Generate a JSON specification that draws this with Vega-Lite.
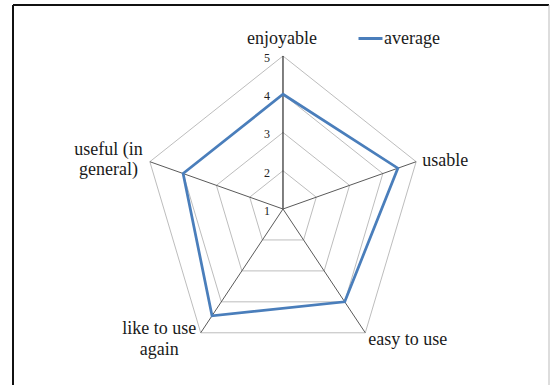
{
  "$schema": "https://vega.github.io/schema/vega-lite/v6.json",
  "width": 536,
  "height": 380,
  "padding": {"left": 13, "top": 5, "right": 1, "bottom": 0},
  "autosize": {"type": "none"},
  "background": "white",
  "view": {"stroke": null},
  "config": {"font": "Liberation Serif"},
  "data": {
    "values": [
      {"axis": "enjoyable", "idx": 0, "average": 4.0, "levels": [2, 3, 4, 5]},
      {"axis": "usable", "idx": 1, "average": 4.45, "levels": [2, 3, 4, 5]},
      {"axis": "easy to use", "idx": 2, "average": 4.0, "levels": [2, 3, 4, 5]},
      {"axis": "like to use\nagain", "idx": 3, "average": 4.45, "levels": [2, 3, 4, 5]},
      {"axis": "useful (in\ngeneral)", "idx": 4, "average": 4.0, "levels": [2, 3, 4, 5]}
    ]
  },
  "transform": [
    {"calculate": "2*PI*datum.idx/5", "as": "ang"},
    {"calculate": "(datum.average-1)*sin(datum.ang)", "as": "ax"},
    {"calculate": "(datum.average-1)*cos(datum.ang)", "as": "ay"},
    {"calculate": "4*sin(datum.ang)", "as": "ox"},
    {"calculate": "4*cos(datum.ang)", "as": "oy"}
  ],
  "layer": [
    {
      "transform": [
        {"flatten": ["levels"], "as": ["level"]},
        {"calculate": "(datum.level-1)*sin(datum.ang)", "as": "gx"},
        {"calculate": "(datum.level-1)*cos(datum.ang)", "as": "gy"}
      ],
      "mark": {"type": "line", "interpolate": "linear-closed", "stroke": "#bdbdbd", "strokeWidth": 1},
      "encoding": {
        "x": {"field": "gx", "type": "quantitative", "scale": {"domain": [-7.714, 7.6], "nice": false, "zero": false}, "axis": null},
        "y": {"field": "gy", "type": "quantitative", "scale": {"domain": [-4.601, 5.333], "nice": false, "zero": false}, "axis": null},
        "detail": {"field": "level", "type": "nominal"},
        "order": {"field": "idx", "type": "quantitative"}
      }
    },
    {
      "mark": {"type": "rule", "strokeWidth": 1},
      "encoding": {
        "x": {"field": "ox", "type": "quantitative", "scale": {"domain": [-7.714, 7.6], "nice": false, "zero": false}, "axis": null},
        "y": {"field": "oy", "type": "quantitative", "scale": {"domain": [-4.601, 5.333], "nice": false, "zero": false}, "axis": null},
        "x2": {"datum": 0},
        "y2": {"datum": 0},
        "color": {"condition": {"test": "datum.idx === 0", "value": "#000000"}, "value": "#5a5a5a"}
      }
    },
    {
      "data": {"values": [{"tick": 1}, {"tick": 2}, {"tick": 3}, {"tick": 4}, {"tick": 5}]},
      "transform": [{"calculate": "datum.tick-1", "as": "ty"}],
      "mark": {"type": "text", "align": "right", "baseline": "middle", "dx": -13, "dy": 2, "fontSize": 12, "color": "#222222", "font": "Liberation Serif"},
      "encoding": {
        "x": {"datum": 0, "type": "quantitative", "scale": {"domain": [-7.714, 7.6], "nice": false, "zero": false}, "axis": null},
        "y": {"field": "ty", "type": "quantitative", "scale": {"domain": [-4.601, 5.333], "nice": false, "zero": false}, "axis": null},
        "text": {"field": "tick", "type": "nominal"}
      }
    },
    {
      "mark": {"type": "line", "interpolate": "linear-closed", "strokeWidth": 2.75},
      "encoding": {
        "x": {"field": "ax", "type": "quantitative", "scale": {"domain": [-7.714, 7.6], "nice": false, "zero": false}, "axis": null},
        "y": {"field": "ay", "type": "quantitative", "scale": {"domain": [-4.601, 5.333], "nice": false, "zero": false}, "axis": null},
        "order": {"field": "idx", "type": "quantitative"},
        "color": {
          "datum": "average",
          "type": "nominal",
          "scale": {"range": ["#4a7ebb"]},
          "legend": {
            "orient": "none", "legendX": 344, "legendY": 20, "title": null,
            "symbolType": "stroke", "symbolSize": 576, "symbolStrokeWidth": 3,
            "labelFont": "Liberation Serif", "labelFontSize": 18, "labelColor": "#1a1a1a",
            "labelOffset": 0, "padding": 0
          }
        }
      }
    },
    {
      "transform": [{"filter": "datum.idx === 0"}],
      "mark": {"type": "text", "align": "center", "baseline": "alphabetic", "dx": -1, "dy": -12, "fontSize": 18, "color": "#1a1a1a", "font": "Liberation Serif", "lineBreak": "\n"},
      "encoding": {
        "x": {"field": "ox", "type": "quantitative", "scale": {"domain": [-7.714, 7.6], "nice": false, "zero": false}, "axis": null},
        "y": {"field": "oy", "type": "quantitative", "scale": {"domain": [-4.601, 5.333], "nice": false, "zero": false}, "axis": null},
        "text": {"field": "axis", "type": "nominal"}
      }
    },
    {
      "transform": [{"filter": "datum.idx === 1"}],
      "mark": {"type": "text", "align": "left", "baseline": "alphabetic", "dx": 6, "dy": 4, "fontSize": 18, "color": "#1a1a1a", "font": "Liberation Serif", "lineBreak": "\n"},
      "encoding": {
        "x": {"field": "ox", "type": "quantitative", "scale": {"domain": [-7.714, 7.6], "nice": false, "zero": false}, "axis": null},
        "y": {"field": "oy", "type": "quantitative", "scale": {"domain": [-4.601, 5.333], "nice": false, "zero": false}, "axis": null},
        "text": {"field": "axis", "type": "nominal"}
      }
    },
    {
      "transform": [{"filter": "datum.idx === 2"}],
      "mark": {"type": "text", "align": "left", "baseline": "alphabetic", "dx": 3, "dy": 12, "fontSize": 18, "color": "#1a1a1a", "font": "Liberation Serif", "lineBreak": "\n"},
      "encoding": {
        "x": {"field": "ox", "type": "quantitative", "scale": {"domain": [-7.714, 7.6], "nice": false, "zero": false}, "axis": null},
        "y": {"field": "oy", "type": "quantitative", "scale": {"domain": [-4.601, 5.333], "nice": false, "zero": false}, "axis": null},
        "text": {"field": "axis", "type": "nominal"}
      }
    },
    {
      "transform": [{"filter": "datum.idx === 3"}],
      "mark": {"type": "text", "align": "center", "baseline": "alphabetic", "dx": -41.5, "dy": 1.5, "lineHeight": 21, "fontSize": 18, "color": "#1a1a1a", "font": "Liberation Serif", "lineBreak": "\n"},
      "encoding": {
        "x": {"field": "ox", "type": "quantitative", "scale": {"domain": [-7.714, 7.6], "nice": false, "zero": false}, "axis": null},
        "y": {"field": "oy", "type": "quantitative", "scale": {"domain": [-4.601, 5.333], "nice": false, "zero": false}, "axis": null},
        "text": {"field": "axis", "type": "nominal"}
      }
    },
    {
      "transform": [{"filter": "datum.idx === 4"}],
      "mark": {"type": "text", "align": "center", "baseline": "alphabetic", "dx": -41.3, "dy": -6.7, "lineHeight": 20, "fontSize": 18, "color": "#1a1a1a", "font": "Liberation Serif", "lineBreak": "\n"},
      "encoding": {
        "x": {"field": "ox", "type": "quantitative", "scale": {"domain": [-7.714, 7.6], "nice": false, "zero": false}, "axis": null},
        "y": {"field": "oy", "type": "quantitative", "scale": {"domain": [-4.601, 5.333], "nice": false, "zero": false}, "axis": null},
        "text": {"field": "axis", "type": "nominal"}
      }
    },
    {
      "data": {"values": [{"edge": "left"}]},
      "mark": {"type": "rule", "stroke": "#111111", "strokeWidth": 2},
      "encoding": {
        "x": {"datum": -7.714, "type": "quantitative", "scale": {"domain": [-7.714, 7.6], "nice": false, "zero": false}, "axis": null}
      }
    },
    {
      "data": {"values": [{"edge": "top"}]},
      "mark": {"type": "rule", "stroke": "#111111", "strokeWidth": 2},
      "encoding": {
        "y": {"datum": 5.333, "type": "quantitative", "scale": {"domain": [-4.601, 5.333], "nice": false, "zero": false}, "axis": null}
      }
    },
    {
      "data": {"values": [{"edge": "right"}]},
      "mark": {"type": "rule", "stroke": "#bbbbbb", "strokeWidth": 1},
      "encoding": {
        "x": {"datum": 7.6, "type": "quantitative", "scale": {"domain": [-7.714, 7.6], "nice": false, "zero": false}, "axis": null}
      }
    }
  ]
}
